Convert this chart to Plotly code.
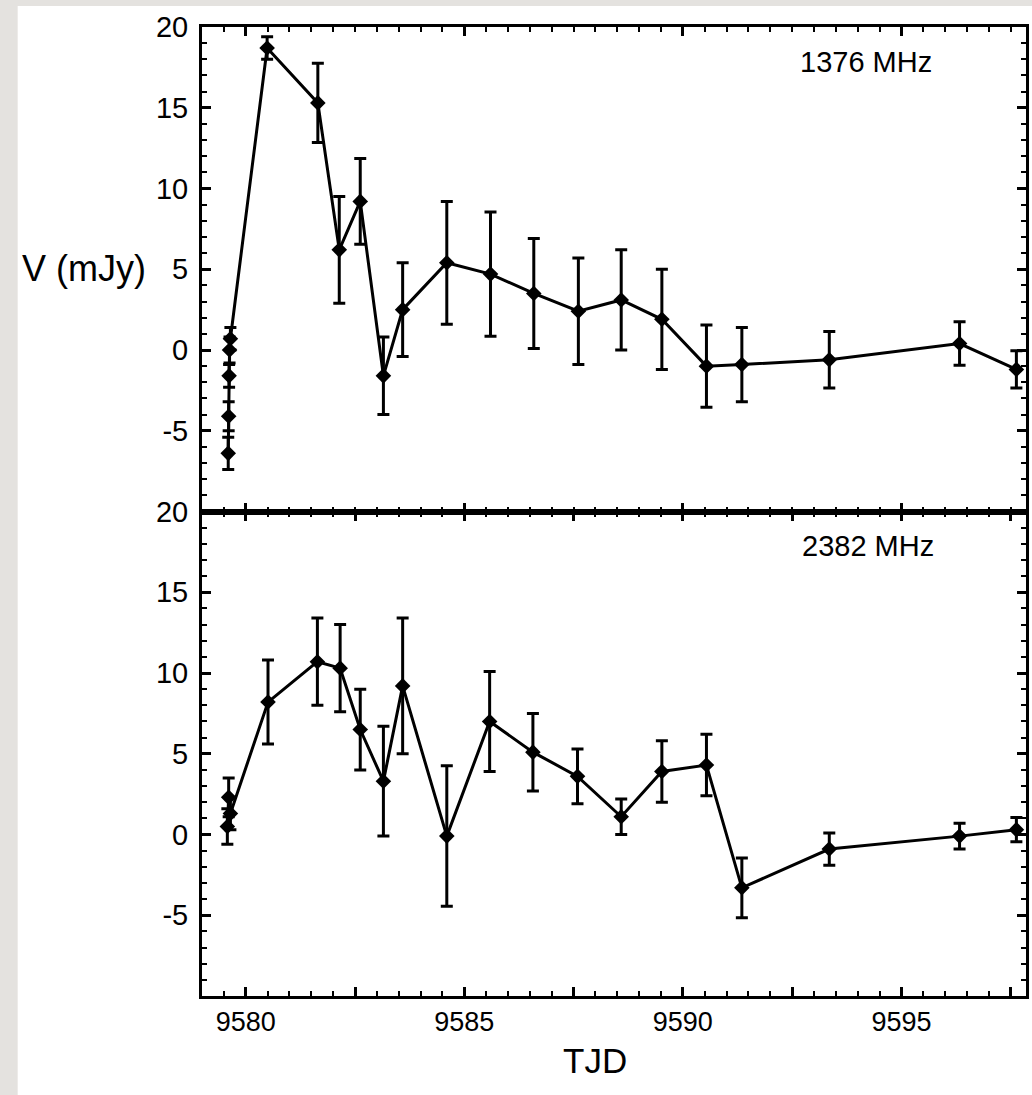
import plotly.graph_objects as go
from plotly.subplots import make_subplots

# 1376 MHz light curve (TJD, flux density in mJy, 1-sigma error)
tjd_1376 = [9579.60, 9579.61, 9579.62, 9579.63, 9579.65,
            9580.49, 9581.65, 9582.14, 9582.62, 9583.15, 9583.59,
            9584.60, 9585.60, 9586.59, 9587.61, 9588.59, 9589.52,
            9590.54, 9591.35, 9593.35, 9596.33, 9597.63]
flux_1376 = [-6.4, -4.1, -1.6, 0.0, 0.7,
             18.7, 15.3, 6.2, 9.2, -1.6, 2.5,
             5.4, 4.7, 3.5, 2.4, 3.1, 1.9,
             -1.0, -0.9, -0.6, 0.4, -1.2]
err_1376 = [1.0, 0.9, 0.7, 0.8, 0.7,
            0.7, 2.45, 3.3, 2.65, 2.4, 2.9,
            3.8, 3.85, 3.4, 3.3, 3.1, 3.1,
            2.55, 2.3, 1.75, 1.35, 1.15]

# 2382 MHz light curve
tjd_2382 = [9579.58, 9579.61, 9579.65,
            9580.51, 9581.64, 9582.16, 9582.62, 9583.15, 9583.59,
            9584.60, 9585.58, 9586.57, 9587.59, 9588.59, 9589.52,
            9590.54, 9591.35, 9593.35, 9596.33, 9597.63]
flux_2382 = [0.5, 2.3, 1.3,
             8.2, 10.7, 10.3, 6.5, 3.3, 9.2,
             -0.1, 7.0, 5.1, 3.6, 1.1, 3.9,
             4.3, -3.3, -0.9, -0.1, 0.3]
err_2382 = [1.1, 1.2, 1.0,
            2.6, 2.7, 2.7, 2.5, 3.4, 4.2,
            4.35, 3.1, 2.4, 1.7, 1.1, 1.9,
            1.9, 1.85, 1.0, 0.8, 0.75]

band_labels = ["1376 MHz", "2382 MHz"]

x_range = [9579.0, 9597.85]
x_tickvals = [9580, 9582.5, 9585, 9587.5, 9590, 9592.5, 9595, 9597.5]
x_ticktext = ["9580", "", "9585", "", "9590", "", "9595", ""]
y_range = [-10, 20]
y_tickvals = [-5, 0, 5, 10, 15, 20]
y_ticktext = ["-5", "0", "5", "10", "15", "20"]

W, H = 1032, 1095
ML, MR, MT, MB = 202, 3, 27, 99
PW, PH = W - ML - MR, H - MT - MB


def px_x(px):
    return (px - ML) / PW


def px_y(py):
    return (H - MB - py) / PH


FONT = "Liberation Sans, Arial, Helvetica, sans-serif"

fig = make_subplots(rows=2, cols=1, shared_xaxes=True, vertical_spacing=0)

for row, (xs, ys, es) in enumerate([(tjd_1376, flux_1376, err_1376),
                                    (tjd_2382, flux_2382, err_2382)], start=1):
    fig.add_trace(go.Scatter(
        x=xs, y=ys, mode="lines+markers",
        line=dict(color="black", width=3),
        marker=dict(symbol="diamond", size=12, color="black"),
        error_y=dict(type="data", array=es, visible=True,
                     color="black", thickness=3, width=6),
        showlegend=False, cliponaxis=False,
    ), row=row, col=1)

axis_common = dict(
    showline=True, linecolor="black", linewidth=3, mirror="ticks",
    ticks="inside", tickcolor="black", tickwidth=2.5,
    showgrid=False, zeroline=False,
)

for row in (1, 2):
    fig.update_xaxes(
        range=x_range, tickmode="array", tickvals=x_tickvals, ticktext=x_ticktext,
        ticklen=9, showticklabels=(row == 2),
        tickfont=dict(family=FONT, size=27, color="black"),
        minor=dict(tickmode="linear", tick0=9579.0, dtick=0.5, ticks="inside",
                   ticklen=5, tickwidth=2, tickcolor="black"),
        row=row, col=1, **axis_common)
    fig.update_yaxes(
        range=y_range, tickmode="array", tickvals=y_tickvals, ticktext=y_ticktext,
        ticklen=9, ticklabelstandoff=5,
        tickfont=dict(family=FONT, size=29, color="black"),
        minor=dict(tickmode="linear", tick0=-10, dtick=1, ticks="inside",
                   ticklen=5, tickwidth=2, tickcolor="black"),
        row=row, col=1, **axis_common)

annotations = [
    dict(text="V (mJy)", x=px_x(84), y=px_y(268), xref="paper", yref="paper",
         xanchor="center", yanchor="middle",
         showarrow=False, font=dict(family=FONT, size=36, color="black")),
    dict(text="TJD", x=px_x(596), y=px_y(1060), xref="paper", yref="paper",
         xanchor="center", yanchor="middle",
         showarrow=False, font=dict(family=FONT, size=35, color="black")),
    dict(text=band_labels[0], x=px_x(868), y=px_y(62), xref="paper", yref="paper",
         xanchor="center", yanchor="middle",
         showarrow=False, font=dict(family=FONT, size=29, color="black")),
    dict(text=band_labels[1], x=px_x(870), y=px_y(546), xref="paper", yref="paper",
         xanchor="center", yanchor="middle",
         showarrow=False, font=dict(family=FONT, size=29, color="black")),
]

# white page on a light grey surround
shapes = [dict(type="rect", xref="paper", yref="paper", layer="below",
               x0=px_x(17), x1=px_x(W + 5), y0=px_y(6), y1=px_y(H + 5),
               fillcolor="white", line=dict(width=0))]

fig.update_layout(
    width=W, height=H,
    margin=dict(l=ML, r=MR, t=MT, b=MB),
    paper_bgcolor="#e4e2df", plot_bgcolor="white",
    annotations=annotations, shapes=shapes,
    font=dict(family=FONT, color="black"),
)

fig.write_html("out.html")
